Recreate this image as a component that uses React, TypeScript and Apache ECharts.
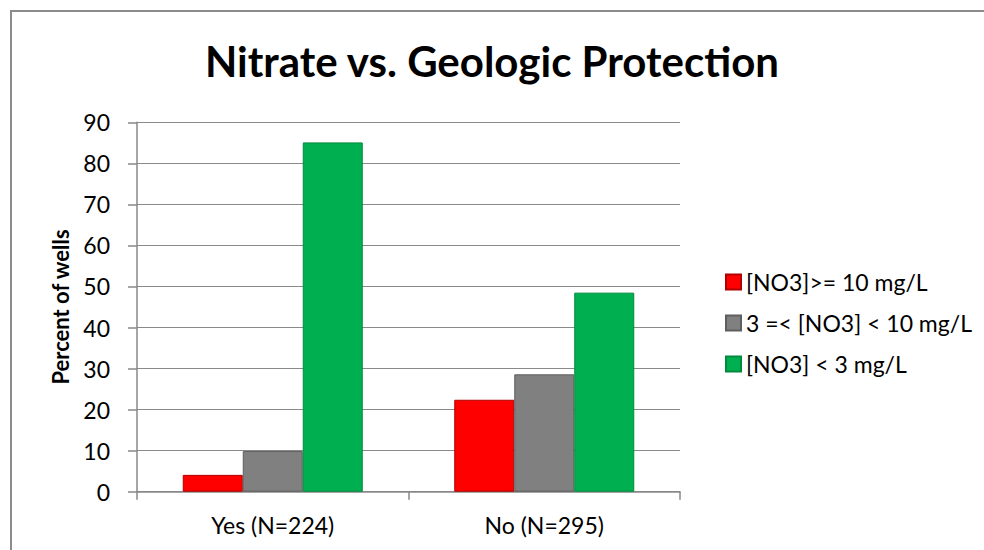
import React, { useEffect, useRef } from "react";
import * as echarts from "echarts";

const categories = ["Yes (N=224)", "No (N=295)"];
const seriesNames = ["[NO3]>= 10 mg/L", "3 =< [NO3] < 10 mg/L", "[NO3] < 3 mg/L"];
const highValues = [4.1, 22.4];
const midValues = [9.9, 28.6];
const lowValues = [85.1, 48.5];
const seriesColors = ["#ff0000", "#808080", "#00b050"];
const seriesBorders = ["#b00000", "#5e5e5e", "#008a3e"];
const yTicks = { min: 0, max: 90, interval: 10 };

const FONT = "Lato, 'Open Sans', 'Noto Sans', sans-serif";

export default function App() {
  const ref = useRef<HTMLDivElement>(null);

  useEffect(() => {
    if (!ref.current) return;
    const chart = echarts.init(ref.current, undefined, { renderer: "svg" });
    const values = [highValues, midValues, lowValues];
    chart.setOption({
      animation: false,
      backgroundColor: "#ffffff",
      title: {
        text: "Nitrate vs. Geologic Protection",
        left: "center",
        top: 33,
        textStyle: {
          fontFamily: FONT,
          fontWeight: "bold",
          fontSize: 42,
          lineHeight: 46,
          color: "#000000",
        },
      },
      graphic: [
        {
          type: "rect",
          silent: true,
          shape: { x: 11, y: 11, width: 1000, height: 600 },
          style: { fill: "none", stroke: "#8c8c8c", lineWidth: 2 },
          z: 100,
        },
      ],
      legend: {
        orient: "vertical",
        left: 720,
        top: 265,
        itemWidth: 15,
        itemHeight: 15,
        itemGap: 17,
        icon: "rect",
        data: seriesNames,
        textStyle: {
          fontFamily: FONT,
          fontSize: 23,
          lineHeight: 24,
          color: "#000000",
        },
      },
      grid: {
        left: 137,
        right: 304,
        top: 122.3,
        bottom: 58.3,
        containLabel: false,
      },
      xAxis: {
        type: "category",
        data: categories,
        boundaryGap: true,
        axisLine: { show: true, lineStyle: { color: "#888888", width: 1.5 } },
        axisTick: { show: true, alignWithLabel: false, length: 8, lineStyle: { color: "#888888", width: 1.5 } },
        axisLabel: {
          fontFamily: FONT,
          fontSize: 23,
          lineHeight: 24,
          color: "#000000",
          margin: 21,
        },
      },
      yAxis: {
        type: "value",
        min: yTicks.min,
        max: yTicks.max,
        interval: yTicks.interval,
        name: "Percent of wells",
        nameLocation: "middle",
        nameGap: 66,
        nameRotate: 90,
        nameTextStyle: {
          fontFamily: FONT,
          fontWeight: "bold",
          fontSize: 22,
          color: "#000000",
          padding: [0, 0, 0, 0],
        },
        axisLine: { show: true, lineStyle: { color: "#888888", width: 1.5 } },
        axisTick: { show: true, inside: false, length: 9, lineStyle: { color: "#888888", width: 1.5 } },
        axisLabel: {
          fontFamily: FONT,
          fontSize: 23,
          color: "#000000",
          margin: 27,
        },
        splitLine: { show: true, lineStyle: { color: "#8a8a8a", width: 1.2 } },
      },
      series: seriesNames.map((name, i) => ({
        name,
        type: "bar",
        data: values[i],
        barWidth: 60,
        barGap: "0%",
        itemStyle: {
          color: seriesColors[i],
          borderColor: seriesBorders[i],
          borderWidth: 1,
        },
      })),
    });
    return () => chart.dispose();
  }, []);

  return (
    <div
      ref={ref}
      style={{ position: "fixed", left: 0, top: 0, width: 984, height: 550 }}
    />
  );
}
